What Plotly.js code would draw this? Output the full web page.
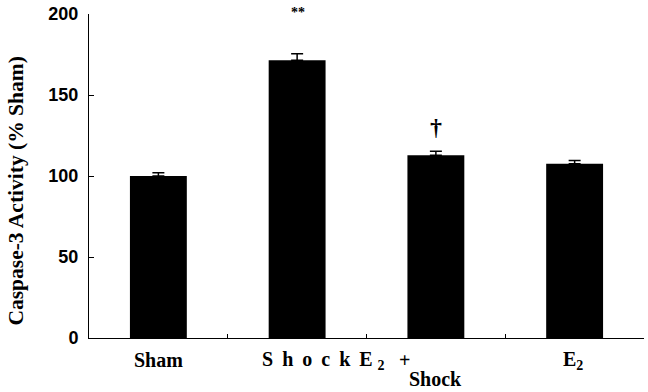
<!DOCTYPE html>
<html><head><meta charset="utf-8">
<script src="https://cdn.plot.ly/plotly-3.0.1.min.js"></script>
<style>body{margin:0;background:#fff}#c{width:648px;height:392px}</style>
</head><body><div id="c"></div>
<script>
var categories = ["Sham", "Shock", "E2 + Shock", "E2"];
var values = [100, 171.5, 112.8, 107.5];
var errors = [2.0, 4.0, 2.5, 2.0];
var yTicks = [0, 50, 100, 150, 200];
var boundaryTicks = [0.5, 1.5, 2.5];
var markers = [{cat: 1, text: "**"}, {cat: 2, text: "\u2020"}];

var xIdx = categories.map(function(_, i){ return i; });
var trace = {
  type: "bar", x: xIdx, y: values, width: 0.41,
  marker: {color: "#000", line: {width: 0}},
  error_y: {type: "data", symmetric: false, array: errors, arrayminus: errors.map(function(){return 0;}),
            color: "#000", thickness: 1.5, width: 6},
  hoverinfo: "none"
};

var serif = "Liberation Serif, Times New Roman, serif";
function lab(){ return {family: serif, size: 20, color: "#000"}; }
var g = " \u2009";
var annotations = [
  {x: 0, y: -0.068, text: "<b>Sham</b>"},
  {x: 1, y: -0.068, text: "<b>S" + g + "h" + g + "o" + g + "c" + g + "k\u2009 E <sub>2</sub></b>", xshift: 26},
  {x: 2, y: -0.068, text: "<b>+</b>", xshift: -31},
  {x: 2, y: -0.127, text: "<b>Shock</b>"},
  {x: 3, y: -0.068, text: "<b>E<sub>2</sub></b>", xshift: -2}
].map(function(a){
  return Object.assign({xref: "x", yref: "paper", showarrow: false, xanchor: "center", yanchor: "middle", font: lab()}, a);
});
annotations.push({x: markers[0].cat, y: 1.005, xref: "x", yref: "paper", text: "<b>" + markers[0].text + "</b>", showarrow: false,
  xshift: 1, yanchor: "middle", font: {family: serif, size: 14, color: "#000"}});
annotations.push({x: markers[1].cat, y: values[2] + errors[2] + 15, xref: "x", yref: "y", text: "<b>" + markers[1].text + "</b>", showarrow: false,
  xshift: 0, yanchor: "middle", font: {family: serif, size: 24, color: "#000"}});
annotations.push({x: 0, y: 0.452, xref: "paper", yref: "paper", text: "<b>Caspase-3 Activity (% Sham)</b>", showarrow: false,
  textangle: -90, xanchor: "center", yanchor: "middle", xshift: -73, font: {family: serif, size: 21.5, color: "#000"}});

var layout = {
  width: 648, height: 392,
  margin: {l: 89, r: 4, t: 14, b: 54},
  paper_bgcolor: "#fff", plot_bgcolor: "#fff",
  showlegend: false,
  xaxis: {range: [-0.5, 3.5], tickvals: boundaryTicks, showticklabels: false,
          ticks: "inside", ticklen: 4, tickcolor: "#000", tickwidth: 1,
          showline: true, linecolor: "#000", linewidth: 1, showgrid: false, zeroline: false, fixedrange: true},
  yaxis: {range: [0, 200], tickvals: yTicks, ticks: "inside", ticklen: 5, tickcolor: "#000", tickwidth: 1,
          showline: true, linecolor: "#000", linewidth: 1, showgrid: false, zeroline: false,
          ticklabelstandoff: 6,
          tickfont: {family: "Liberation Sans, Arial, sans-serif", size: 18, color: "#000", weight: "bold"}},
  annotations: annotations
};
Plotly.newPlot("c", [trace], layout, {staticPlot: true});
</script></body></html>
